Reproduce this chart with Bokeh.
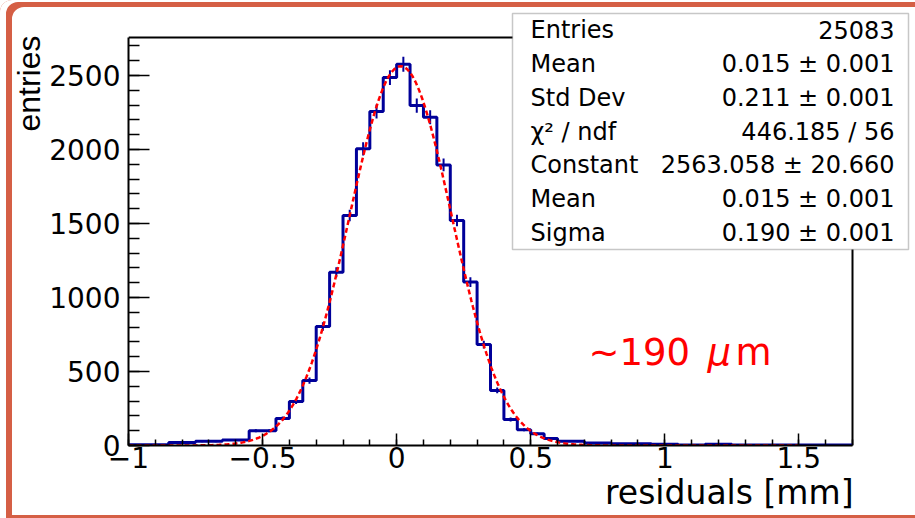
import numpy as np
from bokeh.plotting import figure
from bokeh.models import Range1d, SingleIntervalTicker, Label, BoxAnnotation, Title
from bokeh.embed import file_html
from bokeh.resources import INLINE

# ---------------- data ----------------
bin_width = 0.05
x_min, x_max = -1.0, 1.7
y_min, y_max = 0, 2757
counts = [5, 5, 5, 20, 20, 28, 28, 38, 38, 100,
          100, 182, 297, 439, 804, 1171, 1554, 2005, 2257, 2486,
          2577, 2297, 2218, 1896, 1520, 1104, 682, 372, 176, 106,
          79, 47, 28, 28, 17, 17, 12, 12, 12, 9,
          9, 3, 4, 9, 9, 3, 3, 3, 3, 3,
          3, 3, 3, 3]
x_tick_labels = {-1: "\u22121", -0.5: "\u22120.5", 0: "0", 0.5: "0.5", 1: "1", 1.5: "1.5"}
stats_names = ["Entries", "Mean", "Std Dev", "\u03c7\u00b2 / ndf", "Constant", "Mean", "Sigma"]
stats_values = ["25083", "0.015 \u00b1 0.001", "0.211 \u00b1 0.001", "446.185 / 56",
                "2563.058 \u00b1 20.660", "0.015 \u00b1 0.001", "0.190 \u00b1 0.001"]
fit_constant = 2563.058
fit_mean = 0.015
fit_sigma = 0.190
fit_range = (-1.0, 1.5)

# ---------------- geometry (pixel -> data for annotations) ----------------
W, H = 915, 518
FL, FR, FT, FB = 128, 852, 37, 445   # ROOT frame in pixels


def dx(px):
    return x_min + (px - FL) * (x_max - x_min) / (FR - FL)


def dy(py):
    return y_min + (FB - py) * (y_max - y_min) / (FB - FT)


p = figure(width=W, height=H, output_backend="svg", toolbar_location=None,
           x_range=Range1d(x_min, dx(W)), y_range=Range1d(y_min, dy(0)),
           min_border_left=FL, min_border_right=0,
           min_border_top=0, min_border_bottom=H - FB)
p.grid.visible = False
p.background_fill_color = None
p.border_fill_color = None
p.outline_line_color = None
p.styles = {
    "background-color": "white",
    "border-top-left-radius": "12px",
    "box-shadow": "inset 6px 2px 0 0 white, inset 12px 7px 0 0 #d55f45, inset 0 -3px 0 0 #d55f45",
}

# ROOT frame: top and right edges (left/bottom are the axes)
p.line(x=[x_min, x_max, x_max], y=[y_max, y_max, y_min], line_color="black", line_width=2)

# histogram
n = len(counts)
edges = np.round(x_min + bin_width * np.arange(n + 1), 4)
cnt = np.array(counts, dtype=float)
p.step(x=edges, y=np.append(cnt, cnt[-1]), mode="after", line_color="#000099", line_width=3)
centers = edges[:-1] + bin_width / 2
err = np.sqrt(cnt)
p.segment(x0=centers, y0=cnt - err, x1=centers, y1=cnt + err, line_color="#000099", line_width=2)

# gaussian fit
xf = np.linspace(fit_range[0], fit_range[1], 400)
yf = fit_constant * np.exp(-0.5 * ((xf - fit_mean) / fit_sigma) ** 2)
p.line(xf, yf, line_color="#ff0000", line_width=2.5, line_dash="5 3")

# axes
font = "DejaVu Sans"
xa = p.xaxis[0]
xa.ticker = SingleIntervalTicker(interval=0.5, num_minor_ticks=5)
xa.major_label_overrides = x_tick_labels
xa.bounds = (x_min, x_max)
ya = p.yaxis[0]
ya.ticker = SingleIntervalTicker(interval=500, num_minor_ticks=5)
ya.bounds = (y_min, y_max)
for ax in (xa, ya):
    ax.axis_line_color = "black"
    ax.axis_line_width = 2
    ax.major_tick_out = 0
    ax.minor_tick_out = 0
    ax.major_tick_line_color = "black"
    ax.minor_tick_line_color = "black"
    ax.major_tick_line_width = 1.5
    ax.minor_tick_line_width = 1.5
    ax.major_label_text_font = font
    ax.major_label_text_font_size = "28px"
    ax.major_label_text_color = "black"
xa.major_tick_in = 12
xa.minor_tick_in = 6
xa.major_label_standoff = 1
ya.major_tick_in = 21
ya.minor_tick_in = 11
ya.major_label_standoff = 8

# axis titles (side panels)
p.add_layout(Title(text="residuals [mm]", align="right", vertical_align="bottom", offset=W - 853,
                   standoff=0, text_font=font, text_font_size="33px",
                   text_font_style="normal", text_color="black"), "below")
p.add_layout(Title(text="entries", align="right", vertical_align="bottom", offset=35,
                   standoff=0, text_font="Liberation Sans", text_font_size="32px",
                   text_font_style="normal", text_color="black"), "left")

# annotation text
red_font = "DejaVu Sans"
p.add_layout(Label(x=dx(588), y=dy(352), text="\u223c190", text_align="left",
                   text_baseline="alphabetic", text_font=red_font, text_font_size="37px",
                   text_color="#ff0000"))
p.add_layout(Label(x=dx(707), y=dy(352), text="\u03bc", text_align="left",
                   text_baseline="alphabetic", text_font=red_font, text_font_size="37px",
                   text_font_style="italic", text_color="#ff0000"))
p.add_layout(Label(x=dx(735), y=dy(352), text="m", text_align="left",
                   text_baseline="alphabetic", text_font=red_font, text_font_size="37px",
                   text_color="#ff0000"))

# stats box
box_l, box_r, box_t, box_b = 512, 908, 13, 249
p.add_layout(BoxAnnotation(left=dx(box_l), right=dx(box_r), top=dy(box_t), bottom=dy(box_b),
                           fill_color="white", fill_alpha=1.0, line_color="#444444",
                           line_width=1.5, level="overlay"))
row_h = (box_b - box_t) / len(stats_names)
for i, (nm, val) in enumerate(zip(stats_names, stats_values)):
    cy = box_t + row_h * (i + 0.5)
    p.add_layout(Label(x=dx(530), y=dy(cy), text=nm, text_align="left", text_baseline="middle",
                       text_font=font, text_font_size="24px", text_color="black", level="overlay"))
    p.add_layout(Label(x=dx(894), y=dy(cy), text=val, text_align="right", text_baseline="middle",
                       text_font=font, text_font_size="24px", text_color="black", level="overlay"))

open("out.html", "w").write(file_html(p, INLINE))
